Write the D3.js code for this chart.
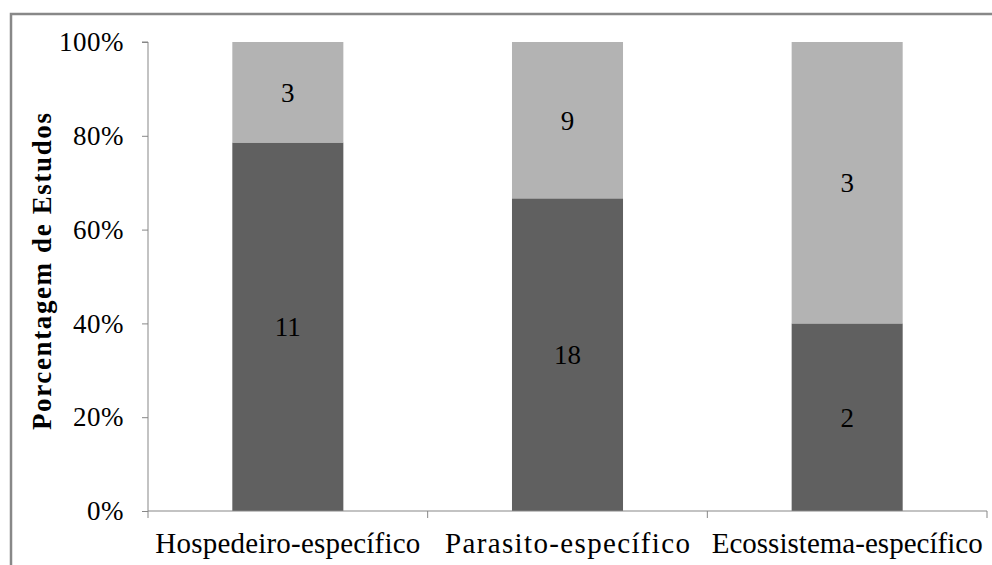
<!DOCTYPE html>
<html>
<head>
<meta charset="utf-8">
<script src="https://cdn.jsdelivr.net/npm/d3@7"></script>
<style>
  html, body { margin: 0; padding: 0; background: #fff; }
  svg { display: block; }
  text { font-family: "Liberation Serif", "Times New Roman", serif; fill: #000; }
</style>
</head>
<body>
<svg id="chart" width="992" height="565"></svg>
<script>
// Study counts per specificity type
const categories = ["Hospedeiro-específico", "Parasito-específico", "Ecossistema-específico"];
const lowerCounts = [11, 18, 2];
const upperCounts = [3, 9, 3];
const tickLabels = ["0%", "20%", "40%", "60%", "80%", "100%"];
const tickValues = [0, 0.2, 0.4, 0.6, 0.8, 1];

const colors = { lower: "#606060", upper: "#b3b3b3", axis: "#878787", frame: "#888888" };
const serif = "'Liberation Serif', 'Times New Roman', serif";

const svg = d3.select("#chart");

// outer frame (extends past the right/bottom edge)
svg.append("rect")
  .attr("x", 11).attr("y", 14)
  .attr("width", 1100).attr("height", 700)
  .attr("fill", "none")
  .attr("stroke", colors.frame)
  .attr("stroke-width", 2.5);

const plot = { left: 148, right: 987, top: 42, bottom: 511 };

const x = d3.scaleBand()
  .domain(categories)
  .range([plot.left, plot.right])
  .paddingInner(0.603)
  .paddingOuter(0.3015);

const y = d3.scaleLinear().domain([0, 1]).range([plot.bottom, plot.top]);

const rows = categories.map((c, i) => {
  const total = lowerCounts[i] + upperCounts[i];
  return {
    cat: c,
    segs: [
      { key: "lower", n: lowerCounts[i], y0: 0, y1: lowerCounts[i] / total },
      { key: "upper", n: upperCounts[i], y0: lowerCounts[i] / total, y1: 1 }
    ]
  };
});

// stacked bars with count labels
const g = svg.append("g");
rows.forEach(r => {
  r.segs.forEach(s => {
    g.append("rect")
      .attr("x", x(r.cat))
      .attr("y", y(s.y1))
      .attr("width", x.bandwidth())
      .attr("height", y(s.y0) - y(s.y1))
      .attr("fill", colors[s.key]);
    g.append("text")
      .attr("x", x(r.cat) + x.bandwidth() / 2)
      .attr("y", (y(s.y0) + y(s.y1)) / 2)
      .attr("dy", "0.35em")
      .attr("text-anchor", "middle")
      .attr("font-family", serif)
      .attr("font-size", 27)
      .text(s.n);
  });
});

// y axis
const yAxis = d3.axisLeft(y)
  .tickValues(tickValues)
  .tickFormat((d, i) => tickLabels[i])
  .tickSize(6)
  .tickPadding(18);
const ya = svg.append("g").attr("transform", `translate(${plot.left},0)`).call(yAxis);
ya.attr("font-family", serif);
ya.select(".domain").attr("stroke", colors.axis).attr("d", `M-6,${plot.top}H0V${plot.bottom}`);
ya.selectAll(".tick line").attr("stroke", colors.axis);
ya.selectAll(".tick text")
  .attr("font-family", serif)
  .attr("font-size", 27)
  .attr("letter-spacing", 0.5)
  .attr("fill", "#000");

// x axis: ticks at category boundaries
const xa = svg.append("g").attr("transform", `translate(0,${plot.bottom})`);
xa.append("line")
  .attr("x1", plot.left).attr("x2", plot.right)
  .attr("stroke", colors.axis);
const bounds = d3.range(categories.length + 1).map(i => plot.left + i * (plot.right - plot.left) / categories.length);
xa.selectAll("line.tk").data(bounds).join("line")
  .attr("class", "tk")
  .attr("x1", d => d).attr("x2", d => d)
  .attr("y1", 0).attr("y2", 7)
  .attr("stroke", colors.axis);
const labelWidths = [265, 245, 271];
xa.selectAll("text.cat").data(categories).join("text")
  .attr("class", "cat")
  .attr("x", d => x(d) + x.bandwidth() / 2)
  .attr("y", 42)
  .attr("text-anchor", "middle")
  .attr("font-family", serif)
  .attr("font-size", 29)
  .attr("textLength", (d, i) => labelWidths[i])
  .attr("lengthAdjust", "spacing")
  .text(d => d);

// y axis title
svg.append("text")
  .attr("transform", `translate(51,${(113 + 430) / 2}) rotate(-90)`)
  .attr("text-anchor", "middle")
  .attr("font-family", serif)
  .attr("font-size", 27)
  .attr("font-weight", "bold")
  .attr("textLength", 317)
  .attr("lengthAdjust", "spacing")
  .text("Porcentagem de Estudos");
</script>
</body>
</html>
